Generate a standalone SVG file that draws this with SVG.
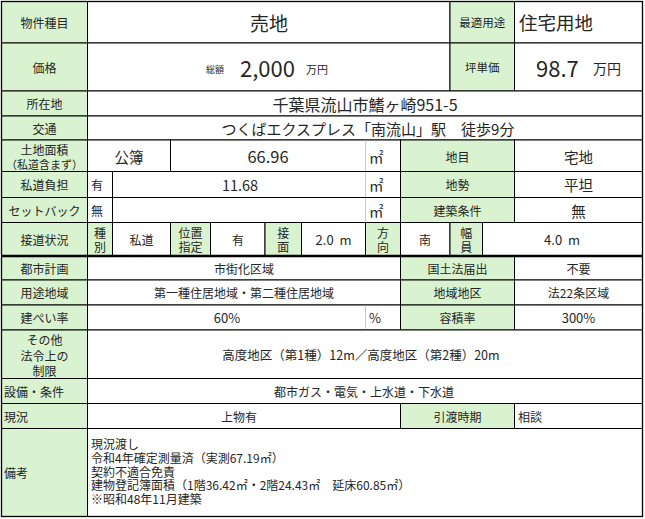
<svg xmlns="http://www.w3.org/2000/svg" width="645" height="519" viewBox="0 0 645 519">
<style>
.g{fill:#D9F2D0;stroke:#000;stroke-width:1}
.w{fill:#fff;stroke:#000;stroke-width:1}
text{font-family:"Noto Sans CJK JP","Noto Sans",sans-serif;fill:#262626;dominant-baseline:central}
.l{font-size:12px;text-anchor:middle}
.ll{font-size:12px;text-anchor:start}
.v{font-size:14.5px;text-anchor:middle}
.vs{font-size:14.5px;text-anchor:start}
.big{font-size:16px;text-anchor:middle}
.rm{font-size:12px;text-anchor:start}
.sub{stroke:#c8c8c8;stroke-width:1}
</style>
<rect x="0" y="0" width="645" height="519" fill="#fff"/>
<g id="row-type">
<rect class="g" x="1.5" y="1.5" width="86" height="41.5"/><text class="l" x="44.5" y="22">物件種目</text>
<rect class="w" x="87.5" y="1.5" width="362.5" height="41.5"/><text x="269" y="22" style="font-size:19px;text-anchor:middle">売地</text>
<rect class="g" x="450" y="1.5" width="64.5" height="41.5"/><text x="482.2" y="22" style="font-size:11.5px;text-anchor:middle">最適用途</text>
<rect class="w" x="514.5" y="1.5" width="128" height="41.5"/><text x="519" y="22" style="font-size:18.5px">住宅用地</text>
</g>
<g id="row-price">
<rect class="g" x="1.5" y="43" width="86" height="48"/><text class="l" x="44.5" y="67">価格</text>
<rect class="w" x="87.5" y="43" width="362.5" height="48"/>
<text x="206" y="69" style="font-size:9px">総額</text>
<text x="240" y="67" style="font-size:22px">2,000</text>
<text x="306" y="69" style="font-size:11px">万円</text>
<rect class="g" x="450" y="43" width="64.5" height="48"/><text x="482.2" y="67" style="font-size:11.5px;text-anchor:middle">坪単価</text>
<rect class="w" x="514.5" y="43" width="128" height="48"/>
<text x="536" y="67" style="font-size:22px">98.7</text>
<text x="593" y="68" style="font-size:14px">万円</text>
</g>
<g id="row-address">
<rect class="g" x="1.5" y="91" width="86" height="25"/><text class="l" x="44.5" y="103.5">所在地</text>
<rect class="w" x="87.5" y="91" width="555" height="25"/><text class="big" x="365" y="103.5">千葉県流山市鰭ヶ崎951-5</text>
</g>
<g id="row-access">
<rect class="g" x="1.5" y="116" width="86" height="24"/><text class="l" x="44.5" y="128">交通</text>
<rect class="w" x="87.5" y="116" width="555" height="24"/><text x="368" y="128" style="font-size:15px;text-anchor:middle">つくばエクスプレス「南流山」駅　徒歩9分</text>
</g>
<g id="row-land">
<rect class="g" x="1.5" y="140" width="86" height="31.5"/>
<text class="l" x="44.5" y="149.5">土地面積</text>
<text x="44.5" y="163.5" style="font-size:11px;text-anchor:middle">（私道含まず）</text>
<rect class="w" x="87.5" y="140" width="83" height="31.5"/><text class="v" x="129" y="156">公簿</text>
<rect class="w" x="170.5" y="140" width="230" height="31.5"/><text x="268" y="156" style="font-size:16.5px;text-anchor:middle">66.96</text>
<line class="sub" x1="365.5" y1="140.5" x2="365.5" y2="171"/><text class="vs" x="369" y="156">㎡</text>
<rect class="g" x="400.5" y="140" width="114" height="31.5"/><text class="l" x="457.5" y="156">地目</text>
<rect class="w" x="514.5" y="140" width="128" height="31.5"/><text class="v" x="578.5" y="156">宅地</text>
</g>
<g id="row-private-road">
<rect class="g" x="1.5" y="171.5" width="86" height="26"/><text class="l" x="44.5" y="184.5">私道負担</text>
<rect class="w" x="87.5" y="171.5" width="25" height="26"/><text class="ll" x="91" y="184.5">有</text>
<rect class="w" x="112.5" y="171.5" width="288" height="26"/><text class="v" x="240" y="184.5">11.68</text>
<line class="sub" x1="365.5" y1="172" x2="365.5" y2="197"/><text class="vs" x="369" y="184.5">㎡</text>
<rect class="g" x="400.5" y="171.5" width="114" height="26"/><text class="l" x="457.5" y="184.5">地勢</text>
<rect class="w" x="514.5" y="171.5" width="128" height="26"/><text class="v" x="578.5" y="184.5">平坦</text>
</g>
<g id="row-setback">
<rect class="g" x="1.5" y="197.5" width="86" height="25"/><text class="l" x="44.5" y="210">セットバック</text>
<rect class="w" x="87.5" y="197.5" width="25" height="25"/><text class="ll" x="91" y="210">無</text>
<rect class="w" x="112.5" y="197.5" width="288" height="25"/>
<line class="sub" x1="365.5" y1="198" x2="365.5" y2="222"/><text class="vs" x="369" y="210">㎡</text>
<rect class="g" x="400.5" y="197.5" width="114" height="25"/><text class="l" x="457.5" y="210">建築条件</text>
<rect class="w" x="514.5" y="197.5" width="128" height="25"/><text class="v" x="578.5" y="210">無</text>
</g>
<g id="row-road">
<rect class="g" x="1.5" y="222.5" width="86" height="33"/><text class="l" x="44.5" y="239">接道状況</text>
<rect class="g" x="87.5" y="222.5" width="25" height="33"/><text class="l" x="100" y="232">種</text><text class="l" x="100" y="246.5">別</text>
<rect class="w" x="112.5" y="222.5" width="58" height="33"/><text class="l" x="141.5" y="239">私道</text>
<rect class="g" x="170.5" y="222.5" width="40" height="33"/><text class="l" x="190.5" y="232">位置</text><text class="l" x="190.5" y="246.5">指定</text>
<rect class="w" x="210.5" y="222.5" width="54.5" height="33"/><text class="l" x="238" y="239">有</text>
<rect class="g" x="265" y="222.5" width="36.5" height="33"/><text class="l" x="283.2" y="232">接</text><text class="l" x="283.2" y="246.5">面</text>
<rect class="w" x="301.5" y="222.5" width="64" height="33"/><text x="333.5" y="239" style="font-size:13px;text-anchor:middle;white-space:pre">2.0  m</text>
<rect class="g" x="365.5" y="222.5" width="35" height="33"/><text class="l" x="383" y="232">方</text><text class="l" x="383" y="246.5">向</text>
<rect class="w" x="400.5" y="222.5" width="49.5" height="33"/><text class="l" x="425" y="239">南</text>
<rect class="g" x="450" y="222.5" width="32.5" height="33"/><text class="l" x="466.2" y="232">幅</text><text class="l" x="466.2" y="246.5">員</text>
<rect class="w" x="482.5" y="222.5" width="160" height="33"/><text x="562" y="239" style="font-size:13px;text-anchor:middle;white-space:pre">4.0  m</text>
</g>
<g id="row-cityplan">
<rect class="g" x="1.5" y="256" width="86" height="24"/><text class="l" x="44.5" y="268.5">都市計画</text>
<rect class="w" x="87.5" y="256" width="313" height="24"/><text class="l" x="244" y="268.5">市街化区域</text>
<rect class="g" x="400.5" y="256" width="114" height="24"/><text class="l" x="457.5" y="268.5">国土法届出</text>
<rect class="w" x="514.5" y="256" width="128" height="24"/><text class="l" x="578.5" y="268.5">不要</text>
</g>
<g id="row-zoning">
<rect class="g" x="1.5" y="280" width="86" height="25"/><text class="l" x="44.5" y="292.5">用途地域</text>
<rect class="w" x="87.5" y="280" width="313" height="25"/><text class="l" x="244" y="292.5">第一種住居地域・第二種住居地域</text>
<rect class="g" x="400.5" y="280" width="114" height="25"/><text class="l" x="457.5" y="292.5">地域地区</text>
<rect class="w" x="514.5" y="280" width="128" height="25"/><text class="l" x="578.5" y="292.5">法22条区域</text>
</g>
<g id="row-coverage">
<rect class="g" x="1.5" y="305" width="86" height="25"/><text class="l" x="44.5" y="317.5">建ぺい率</text>
<rect class="w" x="87.5" y="305" width="313" height="25"/><text x="227" y="317.5" style="font-size:13px;text-anchor:middle">60%</text>
<line class="sub" x1="365.5" y1="305.5" x2="365.5" y2="329.5"/><text x="369" y="317.5" style="font-size:13px">%</text>
<rect class="g" x="400.5" y="305" width="114" height="25"/><text class="l" x="457.5" y="317.5">容積率</text>
<rect class="w" x="514.5" y="305" width="128" height="25"/><text x="578.5" y="317.5" style="font-size:13px;text-anchor:middle">300%</text>
</g>
<g id="row-other">
<rect class="g" x="1.5" y="330" width="86" height="48.5"/>
<text class="l" x="44.5" y="339.5">その他</text><text class="l" x="44.5" y="355">法令上の</text><text class="l" x="44.5" y="370.5">制限</text>
<rect class="w" x="87.5" y="330" width="555" height="48.5"/><text x="361" y="354" style="font-size:12.5px;text-anchor:middle">高度地区（第1種）12m／高度地区（第2種）20m</text>
</g>
<g id="row-facility">
<rect class="g" x="1.5" y="378.5" width="86" height="25"/><text class="ll" x="4" y="391">設備・条件</text>
<rect class="w" x="87.5" y="378.5" width="555" height="25"/><text class="l" x="364" y="391">都市ガス・電気・上水道・下水道</text>
</g>
<g id="row-status">
<rect class="g" x="1.5" y="403.5" width="86" height="25"/><text class="ll" x="4" y="416">現況</text>
<rect class="w" x="87.5" y="403.5" width="313" height="25"/><text class="l" x="239" y="416">上物有</text>
<rect class="g" x="400.5" y="403.5" width="114" height="25"/><text class="l" x="457.5" y="416">引渡時期</text>
<rect class="w" x="514.5" y="403.5" width="128" height="25"/><text class="ll" x="518" y="416">相談</text>
</g>
<g id="row-remarks">
<rect class="g" x="1.5" y="428.5" width="86" height="88"/><text class="ll" x="4" y="472">備考</text>
<rect class="w" x="87.5" y="428.5" width="555" height="88"/>
<text class="rm" x="91" y="443"><tspan x="91" y="443">現況渡し</tspan><tspan x="91" y="456.75">令和4年確定測量済（実測67.19㎡）</tspan><tspan x="91" y="470.5">契約不適合免責</tspan><tspan x="91" y="484.25">建物登記簿面積（1階36.42㎡・2階24.43㎡　延床60.85㎡）</tspan><tspan x="91" y="498">※昭和48年11月建築</tspan></text>
</g>
<g id="connectors">
<line x1="1.5" y1="256" x2="642.5" y2="256" stroke="#000" stroke-width="2.5"/>
<rect x="1.5" y="1.5" width="641" height="515" fill="none" stroke="#000" stroke-width="1.3"/>
</g>
</svg>
